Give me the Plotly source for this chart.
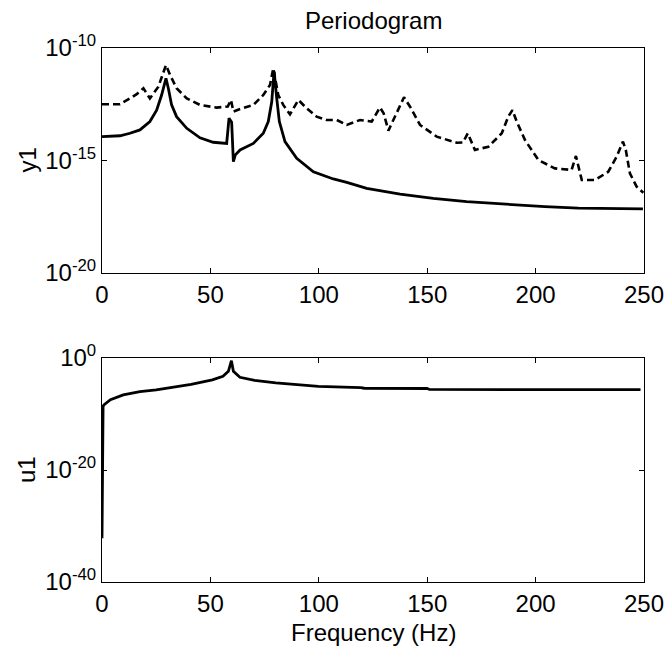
import plotly.graph_objects as go
import numpy as np

# ---- data ----
# top panel, solid line: frequency (Hz) and log10(power)
y1_solid_f = [0, 8.3, 12.9, 17.5, 22.1, 25.2, 27.5, 28.7, 29.5, 30.6,
              32.1, 34.4, 39.1, 45.2, 51.3, 57.5, 58.6, 59.8, 60.6, 61.5,
              63.7, 69.8, 74.4, 76.7, 78.3, 79.0, 79.4, 80.6, 81.8, 84.4,
              89.8, 97.5, 106.7, 112.9, 122.1, 137.5, 152.8, 168.2, 183.6, 204.3,
              219.7, 235.0, 249.5]
y1_solid_log = [-13.94, -13.90, -13.79, -13.64, -13.27, -12.76, -12.09, -11.57, -11.35, -11.79,
                -12.53, -13.05, -13.57, -13.99, -14.19, -14.24, -13.12, -13.30, -15.05, -14.75,
                -14.53, -14.24, -13.79, -13.27, -12.39, -11.50, -11.05, -12.24, -13.27, -14.16,
                -14.90, -15.50, -15.82, -15.97, -16.24, -16.49, -16.68, -16.83, -16.93, -17.05,
                -17.12, -17.14, -17.15]

# top panel, dashed line
y1_dash_f = [0, 8.3, 12.9, 16.0, 19.1, 22.1, 26.0, 28.3, 29.5, 31.4,
             34.4, 39.1, 45.2, 52.9, 58.0, 59.5, 60.6, 63.7, 69.8, 74.4,
             77.5, 79.0, 81.3, 83.6, 86.7, 90.6, 94.4, 99.0, 103.6, 108.3,
             112.9, 119.0, 124.4, 128.2, 129.9, 132.1, 134.4, 136.8, 139.3, 142.1,
             146.7, 154.4, 163.6, 166.5, 168.7, 172.0, 178.2, 184.4, 187.4, 189.3,
             191.3, 195.1, 201.3, 208.9, 216.6, 218.6, 221.3, 227.4, 233.5, 237.4,
             240.3, 241.6, 243.5, 246.6, 249.7]
y1_dash_log = [-12.50, -12.50, -12.24, -12.05, -11.79, -12.24, -11.72, -11.05, -10.76, -11.20,
               -11.79, -12.24, -12.53, -12.65, -12.60, -12.31, -12.83, -12.71, -12.53, -12.09,
               -11.64, -10.90, -12.09, -12.53, -12.95, -12.31, -12.68, -13.05, -13.20, -13.20,
               -13.42, -13.20, -13.27, -12.64, -12.90, -13.67, -13.20, -12.70, -12.19, -12.61,
               -13.42, -13.94, -14.21, -14.20, -13.79, -14.53, -14.39, -13.79, -13.05, -12.76,
               -13.27, -14.09, -14.98, -15.35, -15.42, -14.80, -15.87, -15.87, -15.50, -14.83,
               -14.16, -14.53, -15.57, -16.16, -16.43]

# bottom panel (u1)
u1_f = [0, 0.5, 1.0, 3.9, 9.8, 17.5, 25.0, 31.3, 41.1, 50.9, 55.8, 58.3, 59.7, 60.6,
        63.6, 70.4, 80.2, 90.0, 99.8, 119.3, 121.0, 150.0, 151.0, 187.8, 248.4]
u1_log = [-32.2, -8.6, -8.33, -7.44, -6.60, -6.00, -5.70, -5.35, -4.70, -3.90, -3.27,
          -2.38, -0.48, -2.38, -3.45, -3.99, -4.46, -4.76, -5.06, -5.30, -5.40, -5.45,
          -5.62, -5.65, -5.65]

top_ticks = [1e-20, 1e-15, 1e-10]
top_ticktext = ["10<sup>-20</sup>", "10<sup>-15</sup>", "10<sup>-10</sup>"]
bot_ticks = [1e-40, 1e-20, 1e0]
bot_ticktext = ["10<sup>-40</sup>", "10<sup>-20</sup>", "10<sup>0</sup>"]
x_ticks = [0, 50, 100, 150, 200, 250]

FONT = "Liberation Sans, Arial, sans-serif"
FS = 24

fig = go.Figure()
fig.add_trace(go.Scatter(x=y1_dash_f, y=np.power(10.0, y1_dash_log), mode="lines",
                         line=dict(color="black", width=2.6, dash="7px,4px"),
                         xaxis="x", yaxis="y", showlegend=False))
fig.add_trace(go.Scatter(x=y1_solid_f, y=np.power(10.0, y1_solid_log), mode="lines",
                         line=dict(color="black", width=2.8),
                         xaxis="x", yaxis="y", showlegend=False))
fig.add_trace(go.Scatter(x=u1_f, y=np.power(10.0, u1_log), mode="lines",
                         line=dict(color="black", width=2.8),
                         xaxis="x2", yaxis="y2", showlegend=False))

axis_common = dict(showline=True, linecolor="black", linewidth=1, mirror="ticks",
                   ticks="inside", ticklen=5, tickcolor="black", showgrid=False,
                   zeroline=False, automargin=False,
                   tickfont=dict(family=FONT, size=FS, color="black"))

L, R, T, B = 102, 21, 48, 68
W, H = 665, 650
ph = H - T - B
top_dom = [(582 - 273) / ph, 1.0]
bot_dom = [0.0, (582 - 358) / ph]

fig.update_layout(
    width=W, height=H, margin=dict(l=L, r=R, t=T, b=B, autoexpand=False),
    paper_bgcolor="white", plot_bgcolor="white",
    font=dict(family=FONT, size=FS, color="black"),
    xaxis=dict(domain=[0, 1], anchor="y", range=[0, 250], tickvals=x_ticks, **axis_common),
    yaxis=dict(domain=top_dom, anchor="x", type="log", range=[-20, -10],
               tickvals=top_ticks, ticktext=top_ticktext, **axis_common),
    xaxis2=dict(domain=[0, 1], anchor="y2", range=[0, 250], tickvals=x_ticks, **axis_common),
    yaxis2=dict(domain=bot_dom, anchor="x2", type="log", range=[-40, 0],
                tickvals=bot_ticks, ticktext=bot_ticktext, **axis_common),
)

ann = dict(showarrow=False, font=dict(family=FONT, size=FS, color="black"),
           xref="paper", yref="paper")
fig.add_annotation(text="Periodogram", x=0.5, y=1 + (T - 20) / ph, yanchor="middle", **ann)
fig.add_annotation(text="y1", x=(27 - L) / (W - L - R), xanchor="center",
                   y=(top_dom[0] + top_dom[1]) / 2, yanchor="middle", textangle=-90, **ann)
fig.add_annotation(text="u1", x=(27 - L) / (W - L - R), xanchor="center",
                   y=(bot_dom[0] + bot_dom[1]) / 2, yanchor="middle", textangle=-90, **ann)
fig.add_annotation(text="Frequency (Hz)", x=0.5, y=(582 - 632) / ph, yanchor="middle", **ann)

fig.write_html("out.html", config={"displayModeBar": False},
               post_script="document.body.style.margin='0';document.body.style.overflow='hidden';")
